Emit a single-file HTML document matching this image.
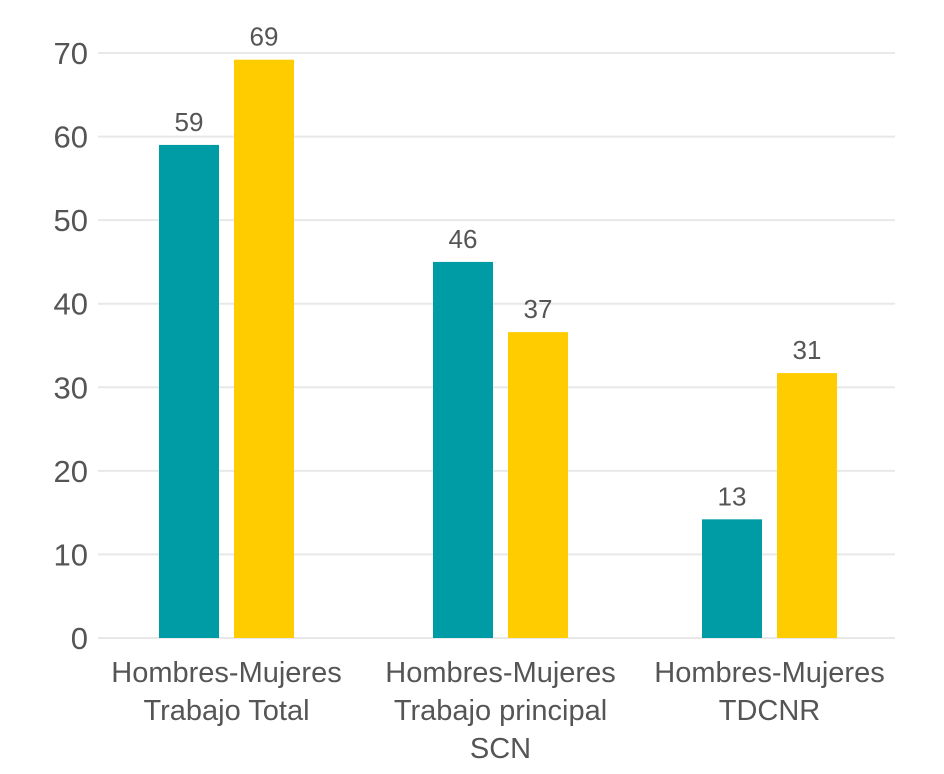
<!DOCTYPE html>
<html><head><meta charset="utf-8"><style>
body{margin:0;background:#fff;}
svg{display:block;font-family:"Liberation Sans",sans-serif;}
</style></head><body>
<svg id="chart" width="944" height="774"></svg>
<script>
const categories=[["Hombres-Mujeres","Trabajo Total"],["Hombres-Mujeres","Trabajo principal","SCN"],["Hombres-Mujeres","TDCNR"]];
const hombres=[59,45,14.2];
const mujeres=[69.2,36.6,31.7];
const hombresLabels=["59","46","13"];
const mujeresLabels=["69","37","31"];
const ticks=[0,10,20,30,40,50,60,70];
const NS="http://www.w3.org/2000/svg";
const svg=document.getElementById('chart');
const y0=638,pxPer=(638-53)/70;
const yS=v=>y0-v*pxPer;
const centers=[226.5,500.5,769.5];
function mk(t,a){const e=document.createElementNS(NS,t);for(const k in a)e.setAttribute(k,a[k]);svg.appendChild(e);return e;}
ticks.forEach(t=>{
 const l=mk('line',{x1:98,x2:895,y1:yS(t),y2:yS(t),stroke:'#e8e8e8','stroke-width':2});
 
 
 const tx=mk('text',{x:88,y:yS(t)+11,'text-anchor':'end','font-size':31,fill:'#555'});
 tx.textContent=t;
 
 
});
categories.forEach((c,i)=>{
 const cx=centers[i];
 [[hombres,hombresLabels,'#009ca6',-67.5,'hombres'],[mujeres,mujeresLabels,'#ffcc00',7.5,'mujeres']].forEach(([vals,labs,col,off,nm])=>{
  const r=mk('rect',{x:cx+off,y:yS(vals[i]),width:60,height:y0-yS(vals[i]),fill:col});
  
  
  const t=mk('text',{x:cx+off+30,y:yS(vals[i])-14,'text-anchor':'middle','font-size':26,fill:'#555'});
  t.textContent=labs[i];
  
  
 });
 c.forEach((line,j)=>{
  const t=mk('text',{x:cx,y:682+j*38,'text-anchor':'middle','font-size':29,fill:'#555'});
  t.textContent=line;
  
  
 });
});
</script>
</body></html>
